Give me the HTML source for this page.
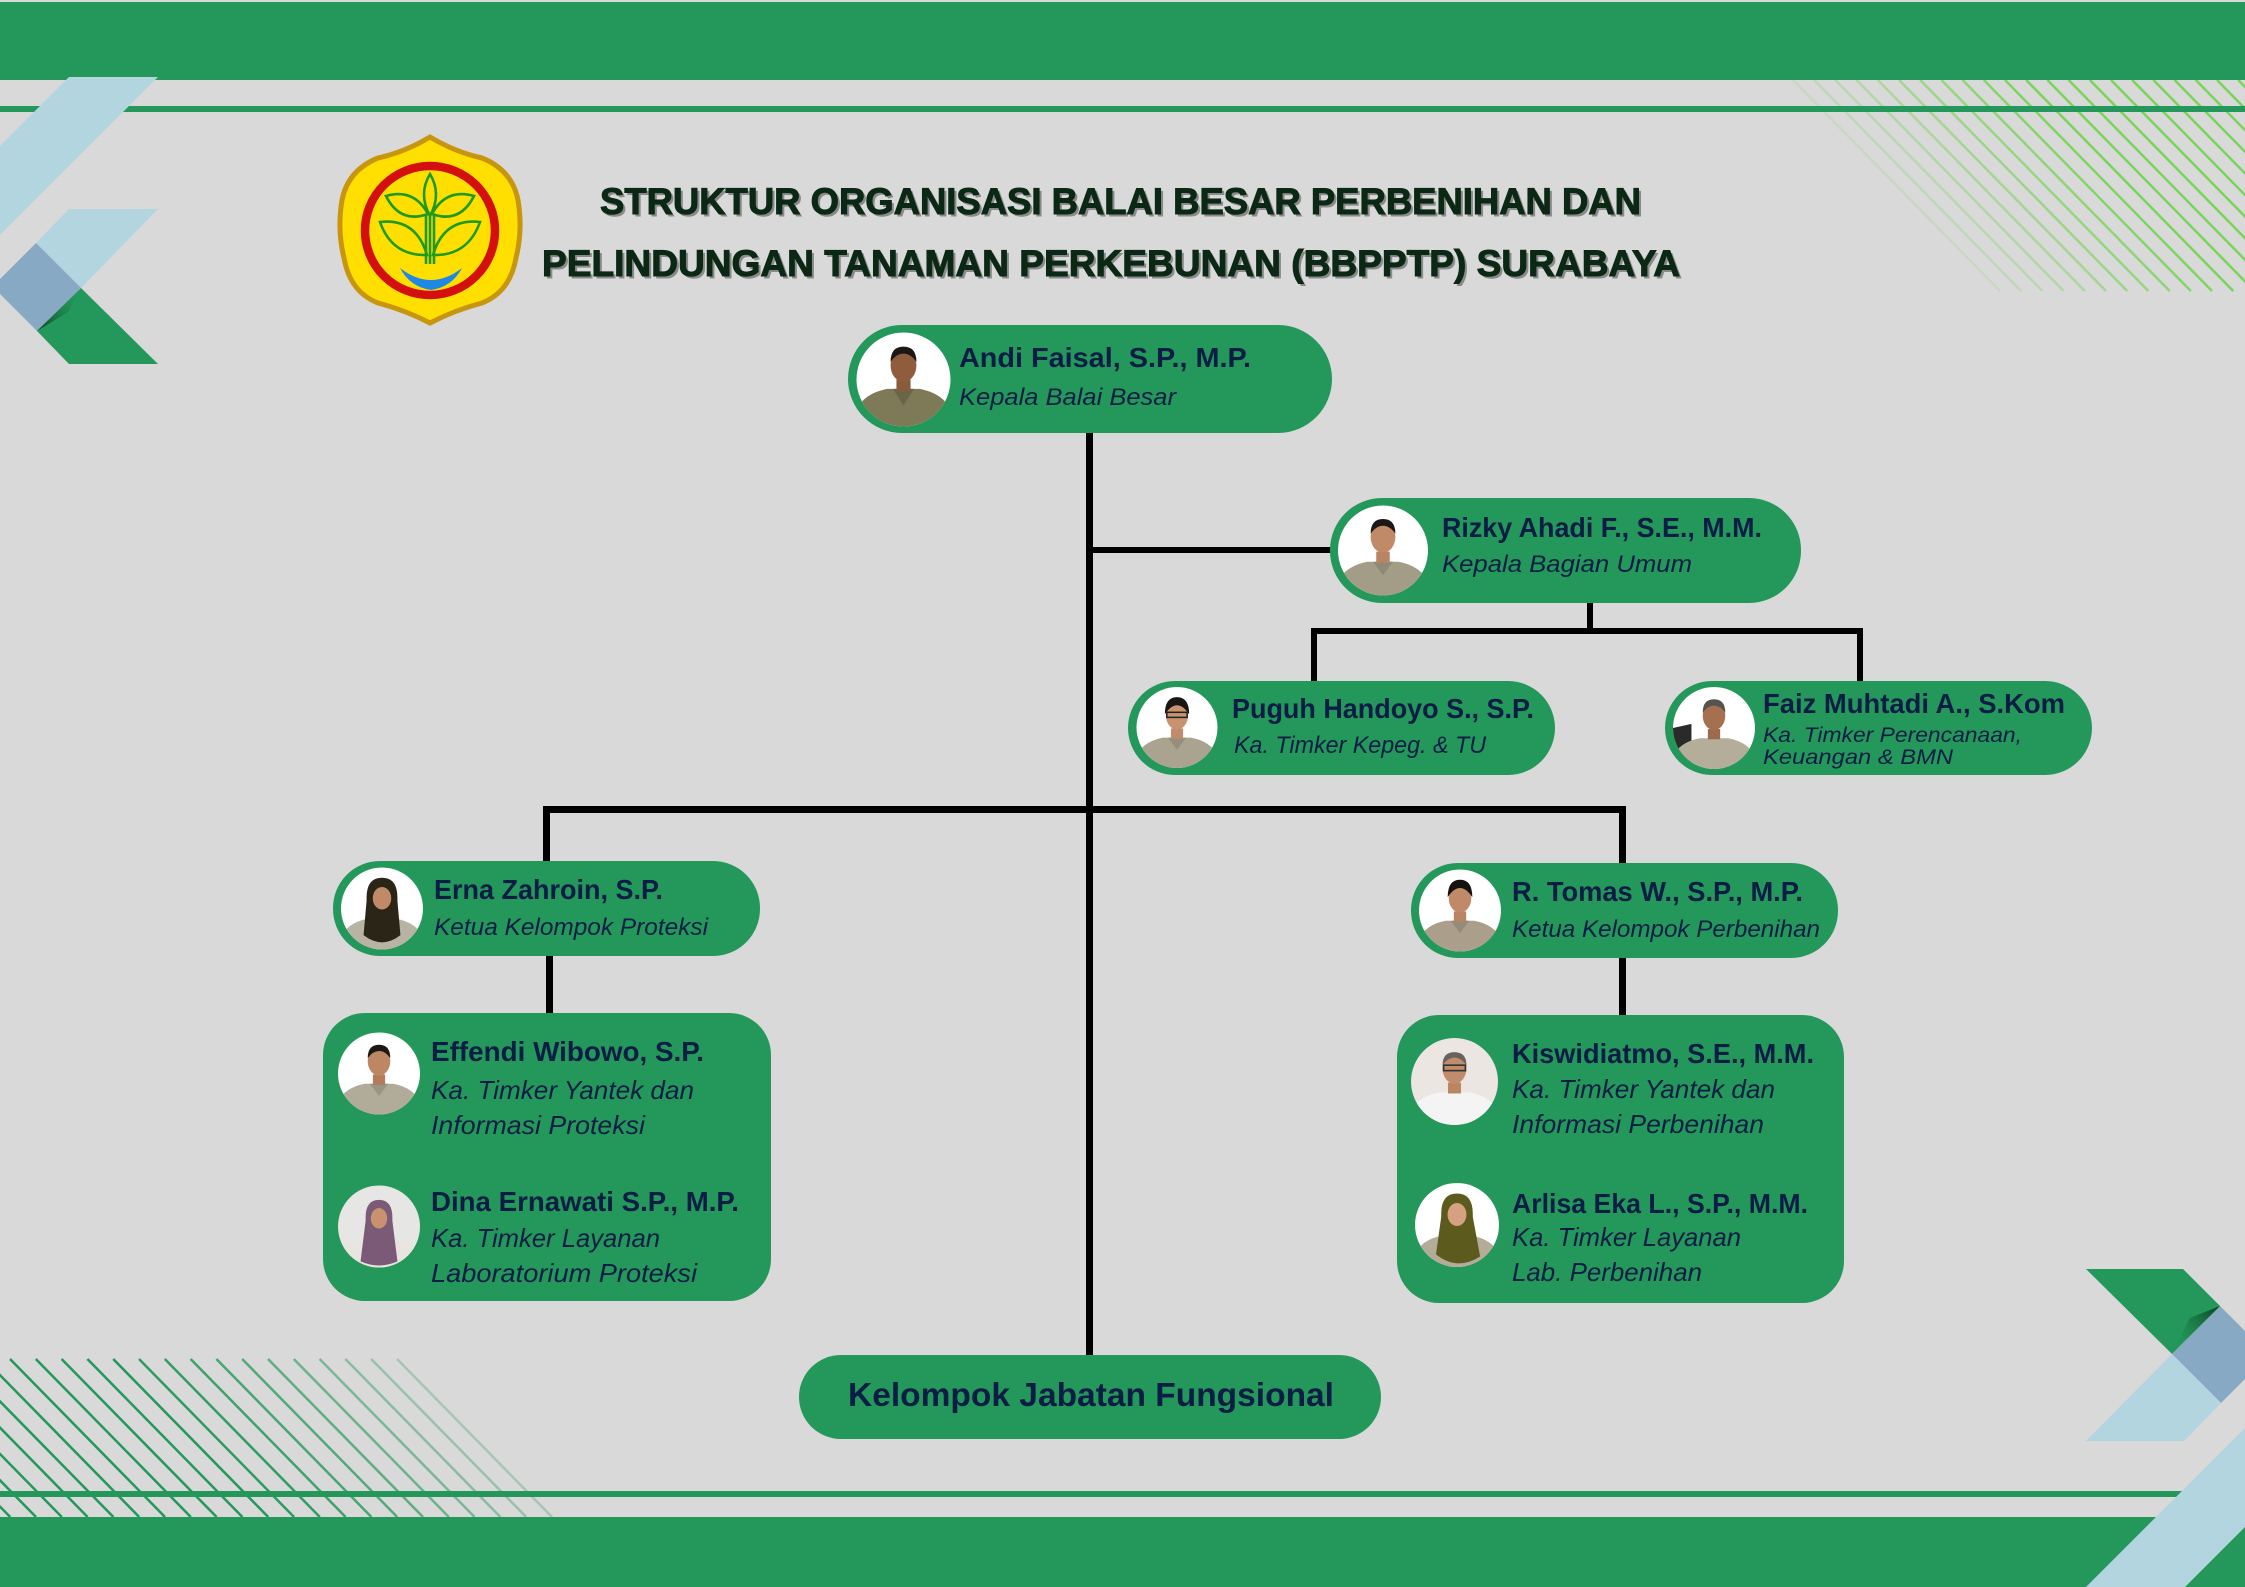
<!DOCTYPE html>
<html>
<head>
<meta charset="utf-8">
<style>
html,body{margin:0;padding:0;background:#d9d9d9;}
svg{display:block;}
.n{font-family:"Liberation Sans",sans-serif;font-weight:bold;font-size:28px;fill:#0c1d45;}
.s{font-family:"Liberation Sans",sans-serif;font-style:italic;font-size:24px;fill:#0c1d45;}
.b{font-family:"Liberation Sans",sans-serif;font-style:italic;font-size:26px;fill:#0c1d45;}
.t{font-family:"Liberation Sans",sans-serif;font-weight:bold;font-size:37px;}
</style>
</head>
<body>
<svg width="2245" height="1587" viewBox="0 0 2245 1587" xmlns="http://www.w3.org/2000/svg">
<defs>
  <clipPath id="pc"><circle cx="0" cy="0" r="40"/></clipPath>
  <linearGradient id="fold1" x1="0" y1="1" x2="1" y2="0">
    <stop offset="0" stop-color="#0b3f20"/>
    <stop offset="1" stop-color="#23985a" stop-opacity="0"/>
  </linearGradient>
  <linearGradient id="fold2" x1="1" y1="0" x2="0" y2="1">
    <stop offset="0" stop-color="#0b3f20"/>
    <stop offset="1" stop-color="#23985a" stop-opacity="0"/>
  </linearGradient>
</defs>

<!-- background -->
<rect x="0" y="0" width="2245" height="1587" fill="#d9d9d9"/>

<!-- top-right hatch -->
<g stroke="#79d55a" stroke-width="2.5">
  <line x1="1793" y1="80" x2="2000" y2="291" stroke-opacity="0.18"/>
  <line x1="1814.2" y1="80" x2="2021.2" y2="291" stroke-opacity="0.25"/>
  <line x1="1835.4" y1="80" x2="2042.4" y2="291" stroke-opacity="0.32"/>
  <line x1="1856.6" y1="80" x2="2063.6" y2="291" stroke-opacity="0.4"/>
  <line x1="1877.8" y1="80" x2="2084.8" y2="291" stroke-opacity="0.48"/>
  <line x1="1899" y1="80" x2="2106" y2="291" stroke-opacity="0.56"/>
  <line x1="1920.2" y1="80" x2="2127.2" y2="291" stroke-opacity="0.64"/>
  <line x1="1941.4" y1="80" x2="2148.4" y2="291" stroke-opacity="0.72"/>
  <line x1="1962.6" y1="80" x2="2169.6" y2="291" stroke-opacity="0.8"/>
  <line x1="1983.8" y1="80" x2="2190.8" y2="291" stroke-opacity="0.88"/>
  <line x1="2005" y1="80" x2="2212" y2="291" stroke-opacity="0.95"/>
  <line x1="2026.2" y1="80" x2="2233.2" y2="291"/>
  <line x1="2047.4" y1="80" x2="2254.4" y2="291"/>
  <line x1="2068.6" y1="80" x2="2275.6" y2="291"/>
  <line x1="2089.8" y1="80" x2="2296.8" y2="291"/>
  <line x1="2111" y1="80" x2="2318" y2="291"/>
  <line x1="2132.2" y1="80" x2="2339.2" y2="291"/>
  <line x1="2153.4" y1="80" x2="2360.4" y2="291"/>
  <line x1="2174.6" y1="80" x2="2381.6" y2="291"/>
  <line x1="2195.8" y1="80" x2="2402.8" y2="291"/>
  <line x1="2217" y1="80" x2="2424" y2="291"/>
  <line x1="2238.2" y1="80" x2="2445.2" y2="291"/>
</g>

<!-- bottom-left hatch -->
<g stroke="#23985a" stroke-width="2.5">
  <line x1="-170.6" y1="1359" x2="-15.6" y2="1517"/>
  <line x1="-144.8" y1="1359" x2="10.2" y2="1517"/>
  <line x1="-119" y1="1359" x2="36" y2="1517"/>
  <line x1="-93.2" y1="1359" x2="61.8" y2="1517"/>
  <line x1="-67.4" y1="1359" x2="87.6" y2="1517"/>
  <line x1="-41.6" y1="1359" x2="113.4" y2="1517"/>
  <line x1="-15.8" y1="1359" x2="139.2" y2="1517"/>
  <line x1="10" y1="1359" x2="165" y2="1517"/>
  <line x1="35.8" y1="1359" x2="190.8" y2="1517"/>
  <line x1="61.6" y1="1359" x2="216.6" y2="1517"/>
  <line x1="87.4" y1="1359" x2="242.4" y2="1517"/>
  <line x1="113.2" y1="1359" x2="268.2" y2="1517"/>
  <line x1="139" y1="1359" x2="294" y2="1517" stroke-opacity="0.95"/>
  <line x1="164.8" y1="1359" x2="319.8" y2="1517" stroke-opacity="0.92"/>
  <line x1="190.6" y1="1359" x2="345.6" y2="1517" stroke-opacity="0.86"/>
  <line x1="216.4" y1="1359" x2="371.4" y2="1517" stroke-opacity="0.8"/>
  <line x1="242.2" y1="1359" x2="397.2" y2="1517" stroke-opacity="0.74"/>
  <line x1="268" y1="1359" x2="423" y2="1517" stroke-opacity="0.68"/>
  <line x1="293.8" y1="1359" x2="448.8" y2="1517" stroke-opacity="0.6"/>
  <line x1="319.6" y1="1359" x2="474.6" y2="1517" stroke-opacity="0.52"/>
  <line x1="345.4" y1="1359" x2="500.4" y2="1517" stroke-opacity="0.44"/>
  <line x1="371.2" y1="1359" x2="526.2" y2="1517" stroke-opacity="0.36"/>
  <line x1="397" y1="1359" x2="552" y2="1517" stroke-opacity="0.28"/>
</g>

<!-- bars and lines -->
<rect x="0" y="2" width="2245" height="78" fill="#23985a"/>
<rect x="0" y="106" width="2245" height="6" fill="#23985a"/>
<rect x="0" y="1491" width="2245" height="6" fill="#23985a"/>
<rect x="0" y="1517" width="2245" height="70" fill="#23985a"/>

<!-- top-left decoration -->
<polygon points="69,77 158,77 0,235 0,146" fill="#b2d5e0"/>
<polygon points="69,209 158,209 81,288 36,243" fill="#b2d5e0"/>
<polygon points="36,243 81,288 37,331 0,294 0,279" fill="#87a9c4"/>
<polygon points="81,288 158,364 69,364 37,331" fill="#23985a"/>
<polygon points="37,331 81,288 68,312" fill="url(#fold1)"/>

<!-- bottom-right decoration -->
<polygon points="2086,1269 2183,1269 2220,1306 2172,1354" fill="#23985a"/>
<polygon points="2220,1306 2245,1331 2245,1379 2221,1403 2172,1354" fill="#87a9c4"/>
<polygon points="2172,1354 2221,1403 2184,1441 2086,1441" fill="#b2d5e0"/>
<polygon points="2220,1306 2172,1354 2190,1318" fill="url(#fold2)"/>
<polygon points="2245,1428 2245,1527 2185,1587 2086,1587" fill="#b2d5e0"/>

<!-- logo -->
<g>
  <path d="M430,137 Q455,152 482,158 Q512,170 518,200 Q523,230 516,258 Q510,292 482,303 Q455,310 430,323 Q405,310 378,303 Q350,292 344,258 Q337,230 342,200 Q348,170 378,158 Q405,152 430,137 Z" fill="#ffdf00" stroke="#c8950f" stroke-width="5"/>
  <ellipse cx="430" cy="230.5" rx="65" ry="64.5" fill="#ffdf00" stroke="#d30f0f" stroke-width="8.5"/>
  <g fill="none" stroke="#1e9a1e" stroke-width="2.6">
    <path d="M430,174 Q442,194 430,216 Q418,194 430,174 Z"/>
    <path d="M428,214 Q400,224 386,196 Q414,188 428,214 Z"/>
    <path d="M432,214 Q460,224 474,196 Q446,188 432,214 Z"/>
    <path d="M427,255 Q392,256 380,222 Q416,218 427,255 Z"/>
    <path d="M433,255 Q468,256 480,222 Q444,218 433,255 Z"/>
    <line x1="426" y1="214" x2="426" y2="264"/>
    <line x1="430" y1="216" x2="430" y2="264"/>
    <line x1="434" y1="214" x2="434" y2="264"/>
  </g>
  <path d="M400,268 Q431,292 462,268 Q452,287 431,290 Q410,287 400,268 Z" fill="#1e88e5"/>
</g>

<!-- title -->
<g class="t">
  <text x="602.5" y="216.5" textLength="1041" lengthAdjust="spacingAndGlyphs" fill="#8a8a8a">STRUKTUR ORGANISASI BALAI BESAR PERBENIHAN DAN</text>
  <text x="600" y="214" textLength="1041" lengthAdjust="spacingAndGlyphs" fill="#0a2814" stroke="#0a2814" stroke-width="1">STRUKTUR ORGANISASI BALAI BESAR PERBENIHAN DAN</text>
  <text x="544.5" y="278.5" textLength="1138" lengthAdjust="spacingAndGlyphs" fill="#8a8a8a">PELINDUNGAN TANAMAN PERKEBUNAN (BBPPTP) SURABAYA</text>
  <text x="542" y="276" textLength="1138" lengthAdjust="spacingAndGlyphs" fill="#0a2814" stroke="#0a2814" stroke-width="1">PELINDUNGAN TANAMAN PERKEBUNAN (BBPPTP) SURABAYA</text>
</g>

<!-- connectors -->
<g fill="#000">
  <rect x="1086" y="430" width="7" height="928"/>
  <rect x="1086" y="547" width="254" height="6"/>
  <rect x="1587" y="600" width="6" height="34"/>
  <rect x="1311" y="628" width="552" height="6"/>
  <rect x="1311" y="628" width="6" height="55"/>
  <rect x="1857" y="628" width="6" height="55"/>
  <rect x="543" y="806" width="1083" height="7"/>
  <rect x="543" y="806" width="7" height="57"/>
  <rect x="1619" y="806" width="7" height="59"/>
  <rect x="546" y="954" width="7" height="61"/>
  <rect x="1619" y="956" width="7" height="61"/>
</g>

<!-- node shapes -->
<g fill="#23985a">
  <rect x="848" y="325" width="484" height="108" rx="54" ry="54"/>
  <rect x="1330" y="498" width="471" height="105" rx="52" ry="52"/>
  <rect x="1128" y="681" width="427" height="94" rx="47" ry="47"/>
  <rect x="1665" y="681" width="427" height="94" rx="47" ry="47"/>
  <rect x="333" y="861" width="427" height="95" rx="47" ry="47"/>
  <rect x="1411" y="863" width="427" height="95" rx="47" ry="47"/>
  <rect x="323" y="1013" width="448" height="288" rx="42" ry="42"/>
  <rect x="1397" y="1015" width="447" height="288" rx="42" ry="42"/>
  <rect x="799" y="1355" width="582" height="84" rx="42" ry="42"/>
</g>

<!-- photos -->
<g transform="translate(903.5,379.5) scale(1.175)">
  <circle r="40" fill="#ffffff"/>
  <g clip-path="url(#pc)">
    <path d="M-40,40 L-40,26 Q-34,12 -14,8 L14,8 Q34,12 40,26 L40,40 Z" fill="#7e7a58"/>
    <path d="M-9,8 L0,22 L9,8 Z" fill="#6a6548"/>
    <rect x="-6" y="0" width="12" height="10" fill="#8a5a3c"/>
    <ellipse cx="0" cy="-12" rx="11" ry="14" fill="#8f5d3e"/>
    <path d="M-11,-15 Q-11,-28 0,-28 Q11,-28 11,-15 Q6,-22 0,-22 Q-6,-22 -11,-15 Z" fill="#1c1814"/>
  </g>
</g>
<g transform="translate(1383,550.5) scale(1.125)">
  <circle r="40" fill="#ffffff"/>
  <g clip-path="url(#pc)">
    <path d="M-40,40 L-40,28 Q-34,14 -14,10 L14,10 Q34,14 40,28 L40,40 Z" fill="#a39d88"/>
    <path d="M-9,10 L0,22 L9,10 Z" fill="#8f8a76"/>
    <rect x="-6" y="1" width="12" height="10" fill="#b88463"/>
    <ellipse cx="0" cy="-12" rx="11" ry="14" fill="#c08a68"/>
    <path d="M-11,-15 Q-11,-28 0,-28 Q11,-28 11,-15 Q6,-22 0,-22 Q-6,-22 -11,-15 Z" fill="#1c1814"/>
  </g>
</g>
<g transform="translate(1177,727.5) scale(1.0125)">
  <circle r="40" fill="#ffffff"/>
  <g clip-path="url(#pc)">
    <path d="M-40,40 L-40,28 Q-34,14 -14,10 L14,10 Q34,14 40,28 L40,40 Z" fill="#aaa390"/>
    <path d="M-9,10 L0,22 L9,10 Z" fill="#948e7c"/>
    <rect x="-6" y="1" width="12" height="10" fill="#c08c6a"/>
    <ellipse cx="0" cy="-12" rx="11" ry="14" fill="#c8936f"/>
    <path d="M-12,-13 Q-12,-30 0,-30 Q12,-30 12,-13 Q6,-22 0,-22 Q-6,-22 -12,-13 Z" fill="#1a1614"/>
    <rect x="-10" y="-15" width="20" height="5" fill="none" stroke="#222" stroke-width="1.5"/>
  </g>
</g>
<g transform="translate(1714,728) scale(1.025)">
  <circle r="40" fill="#ffffff"/>
  <g clip-path="url(#pc)">
    <path d="M-40,0 L-22,-4 L-22,40 L-40,40 Z" fill="#2a2a2a"/>
    <path d="M-40,40 L-40,28 Q-34,14 -14,10 L14,10 Q34,14 40,28 L40,40 Z" fill="#b3ad9a"/>
    <rect x="-6" y="1" width="12" height="10" fill="#9c6a4c"/>
    <ellipse cx="0" cy="-12" rx="11" ry="14" fill="#a5704f"/>
    <path d="M-11,-15 Q-11,-28 0,-28 Q11,-28 11,-15 Q6,-22 0,-22 Q-6,-22 -11,-15 Z" fill="#555250"/>
  </g>
</g>
<g transform="translate(382,908.5) scale(1.025)">
  <circle r="40" fill="#ffffff"/>
  <g clip-path="url(#pc)">
    <path d="M-40,40 L-40,28 Q-34,14 -14,10 L14,10 Q34,14 40,28 L40,40 Z" fill="#b8b3a4"/>
    <path d="M-15,-8 Q-16,-30 0,-30 Q16,-30 15,-8 L18,26 Q0,40 -18,26 Z" fill="#2b2518"/>
    <ellipse cx="0" cy="-10" rx="9" ry="11" fill="#c08a68"/>
  </g>
</g>
<g transform="translate(1460,910.5) scale(1.025)">
  <circle r="40" fill="#ffffff"/>
  <g clip-path="url(#pc)">
    <path d="M-40,40 L-40,28 Q-34,14 -14,10 L14,10 Q34,14 40,28 L40,40 Z" fill="#ab9f8c"/>
    <path d="M-9,10 L0,22 L9,10 Z" fill="#958a78"/>
    <rect x="-6" y="1" width="12" height="10" fill="#b98463"/>
    <ellipse cx="0" cy="-12" rx="11" ry="14" fill="#c08a68"/>
    <path d="M-12,-13 Q-12,-30 0,-30 Q12,-30 12,-13 Q6,-22 0,-22 Q-6,-22 -12,-13 Z" fill="#15120f"/>
  </g>
</g>
<g transform="translate(379,1073.5) scale(1.025)">
  <circle r="40" fill="#ffffff"/>
  <g clip-path="url(#pc)">
    <path d="M-40,40 L-40,28 Q-34,14 -14,10 L14,10 Q34,14 40,28 L40,40 Z" fill="#b1ab99"/>
    <path d="M-9,10 L0,22 L9,10 Z" fill="#9a9482"/>
    <rect x="-6" y="1" width="12" height="10" fill="#b37d5c"/>
    <ellipse cx="0" cy="-12" rx="11" ry="14" fill="#bd8764"/>
    <path d="M-11,-15 Q-11,-28 0,-28 Q11,-28 11,-15 Q6,-22 0,-22 Q-6,-22 -11,-15 Z" fill="#1c1814"/>
  </g>
</g>
<g transform="translate(379,1226.5) scale(1.025)">
  <circle r="40" fill="#e6e6e4"/>
  <g clip-path="url(#pc)">
    <path d="M-40,40 L-40,28 Q-34,16 -14,12 L14,12 Q34,16 40,28 L40,40 Z" fill="#e8e4e0"/>
    <path d="M-13,-6 Q-14,-26 0,-26 Q14,-26 13,-6 L18,34 Q0,42 -18,34 Z" fill="#7b5a78"/>
    <ellipse cx="0" cy="-8" rx="8" ry="10" fill="#c8926e"/>
  </g>
</g>
<g transform="translate(1454.5,1081.5) scale(1.0875)">
  <circle r="40" fill="#ebe6e2"/>
  <g clip-path="url(#pc)">
    <path d="M-40,40 L-40,28 Q-34,14 -14,10 L14,10 Q34,14 40,28 L40,40 Z" fill="#f4f4f4"/>
    <rect x="-6" y="1" width="12" height="10" fill="#b98563"/>
    <ellipse cx="0" cy="-12" rx="11" ry="14" fill="#c08c6b"/>
    <path d="M-11,-15 Q-11,-27 0,-27 Q11,-27 11,-15 Q6,-22 0,-22 Q-6,-22 -11,-15 Z" fill="#6a625c"/>
    <rect x="-10" y="-15" width="20" height="5" fill="none" stroke="#333" stroke-width="1.5"/>
  </g>
</g>
<g transform="translate(1457,1225) scale(1.05)">
  <circle r="40" fill="#ffffff"/>
  <g clip-path="url(#pc)">
    <path d="M-40,40 L-40,28 Q-34,14 -14,10 L14,10 Q34,14 40,28 L40,40 Z" fill="#b4ab98"/>
    <path d="M-15,-8 Q-16,-30 0,-30 Q16,-30 15,-8 L22,30 Q0,44 -20,28 Z" fill="#5c5a1c"/>
    <ellipse cx="0" cy="-10" rx="9" ry="11" fill="#d6a181"/>
  </g>
</g>

<!-- labels -->
<text class="n" x="959" y="367" textLength="292" lengthAdjust="spacingAndGlyphs">Andi Faisal, S.P., M.P.</text>
<text class="s" x="959" y="405" textLength="217" lengthAdjust="spacingAndGlyphs">Kepala Balai Besar</text>

<text class="n" x="1442" y="537" textLength="320" lengthAdjust="spacingAndGlyphs">Rizky Ahadi F., S.E., M.M.</text>
<text class="s" x="1442" y="572" textLength="250" lengthAdjust="spacingAndGlyphs">Kepala Bagian Umum</text>

<text class="n" x="1232" y="718" textLength="302" lengthAdjust="spacingAndGlyphs">Puguh Handoyo S., S.P.</text>
<text class="s" x="1234" y="753" textLength="252" lengthAdjust="spacingAndGlyphs">Ka. Timker Kepeg. &amp; TU</text>

<text class="n" x="1763" y="713" textLength="302" lengthAdjust="spacingAndGlyphs">Faiz Muhtadi A., S.Kom</text>
<text class="s" x="1763" y="742" textLength="259" lengthAdjust="spacingAndGlyphs" style="font-size:21px">Ka. Timker Perencanaan,</text>
<text class="s" x="1763" y="764" textLength="190" lengthAdjust="spacingAndGlyphs" style="font-size:21px">Keuangan &amp; BMN</text>

<text class="n" x="434" y="899" textLength="229" lengthAdjust="spacingAndGlyphs">Erna Zahroin, S.P.</text>
<text class="s" x="434" y="935" textLength="274" lengthAdjust="spacingAndGlyphs">Ketua Kelompok Proteksi</text>

<text class="n" x="1512" y="901" textLength="291" lengthAdjust="spacingAndGlyphs">R. Tomas W., S.P., M.P.</text>
<text class="s" x="1512" y="937" textLength="308" lengthAdjust="spacingAndGlyphs">Ketua Kelompok Perbenihan</text>

<text class="n" x="431" y="1061" textLength="273" lengthAdjust="spacingAndGlyphs">Effendi Wibowo, S.P.</text>
<text class="b" x="431" y="1099" textLength="263" lengthAdjust="spacingAndGlyphs">Ka. Timker Yantek dan</text>
<text class="b" x="431" y="1134" textLength="214" lengthAdjust="spacingAndGlyphs">Informasi Proteksi</text>

<text class="n" x="431" y="1211" textLength="308" lengthAdjust="spacingAndGlyphs">Dina Ernawati S.P., M.P.</text>
<text class="b" x="431" y="1247" textLength="229" lengthAdjust="spacingAndGlyphs">Ka. Timker Layanan</text>
<text class="b" x="431" y="1282" textLength="266" lengthAdjust="spacingAndGlyphs">Laboratorium Proteksi</text>

<text class="n" x="1512" y="1063" textLength="302" lengthAdjust="spacingAndGlyphs">Kiswidiatmo, S.E., M.M.</text>
<text class="b" x="1512" y="1098" textLength="263" lengthAdjust="spacingAndGlyphs">Ka. Timker Yantek dan</text>
<text class="b" x="1512" y="1133" textLength="252" lengthAdjust="spacingAndGlyphs">Informasi Perbenihan</text>

<text class="n" x="1512" y="1213" textLength="296" lengthAdjust="spacingAndGlyphs">Arlisa Eka L., S.P., M.M.</text>
<text class="b" x="1512" y="1246" textLength="229" lengthAdjust="spacingAndGlyphs">Ka. Timker Layanan</text>
<text class="b" x="1512" y="1281" textLength="190" lengthAdjust="spacingAndGlyphs">Lab. Perbenihan</text>

<text class="n" x="848" y="1406" textLength="486" lengthAdjust="spacingAndGlyphs" style="font-size:33px">Kelompok Jabatan Fungsional</text>
</svg>
</body>
</html>
